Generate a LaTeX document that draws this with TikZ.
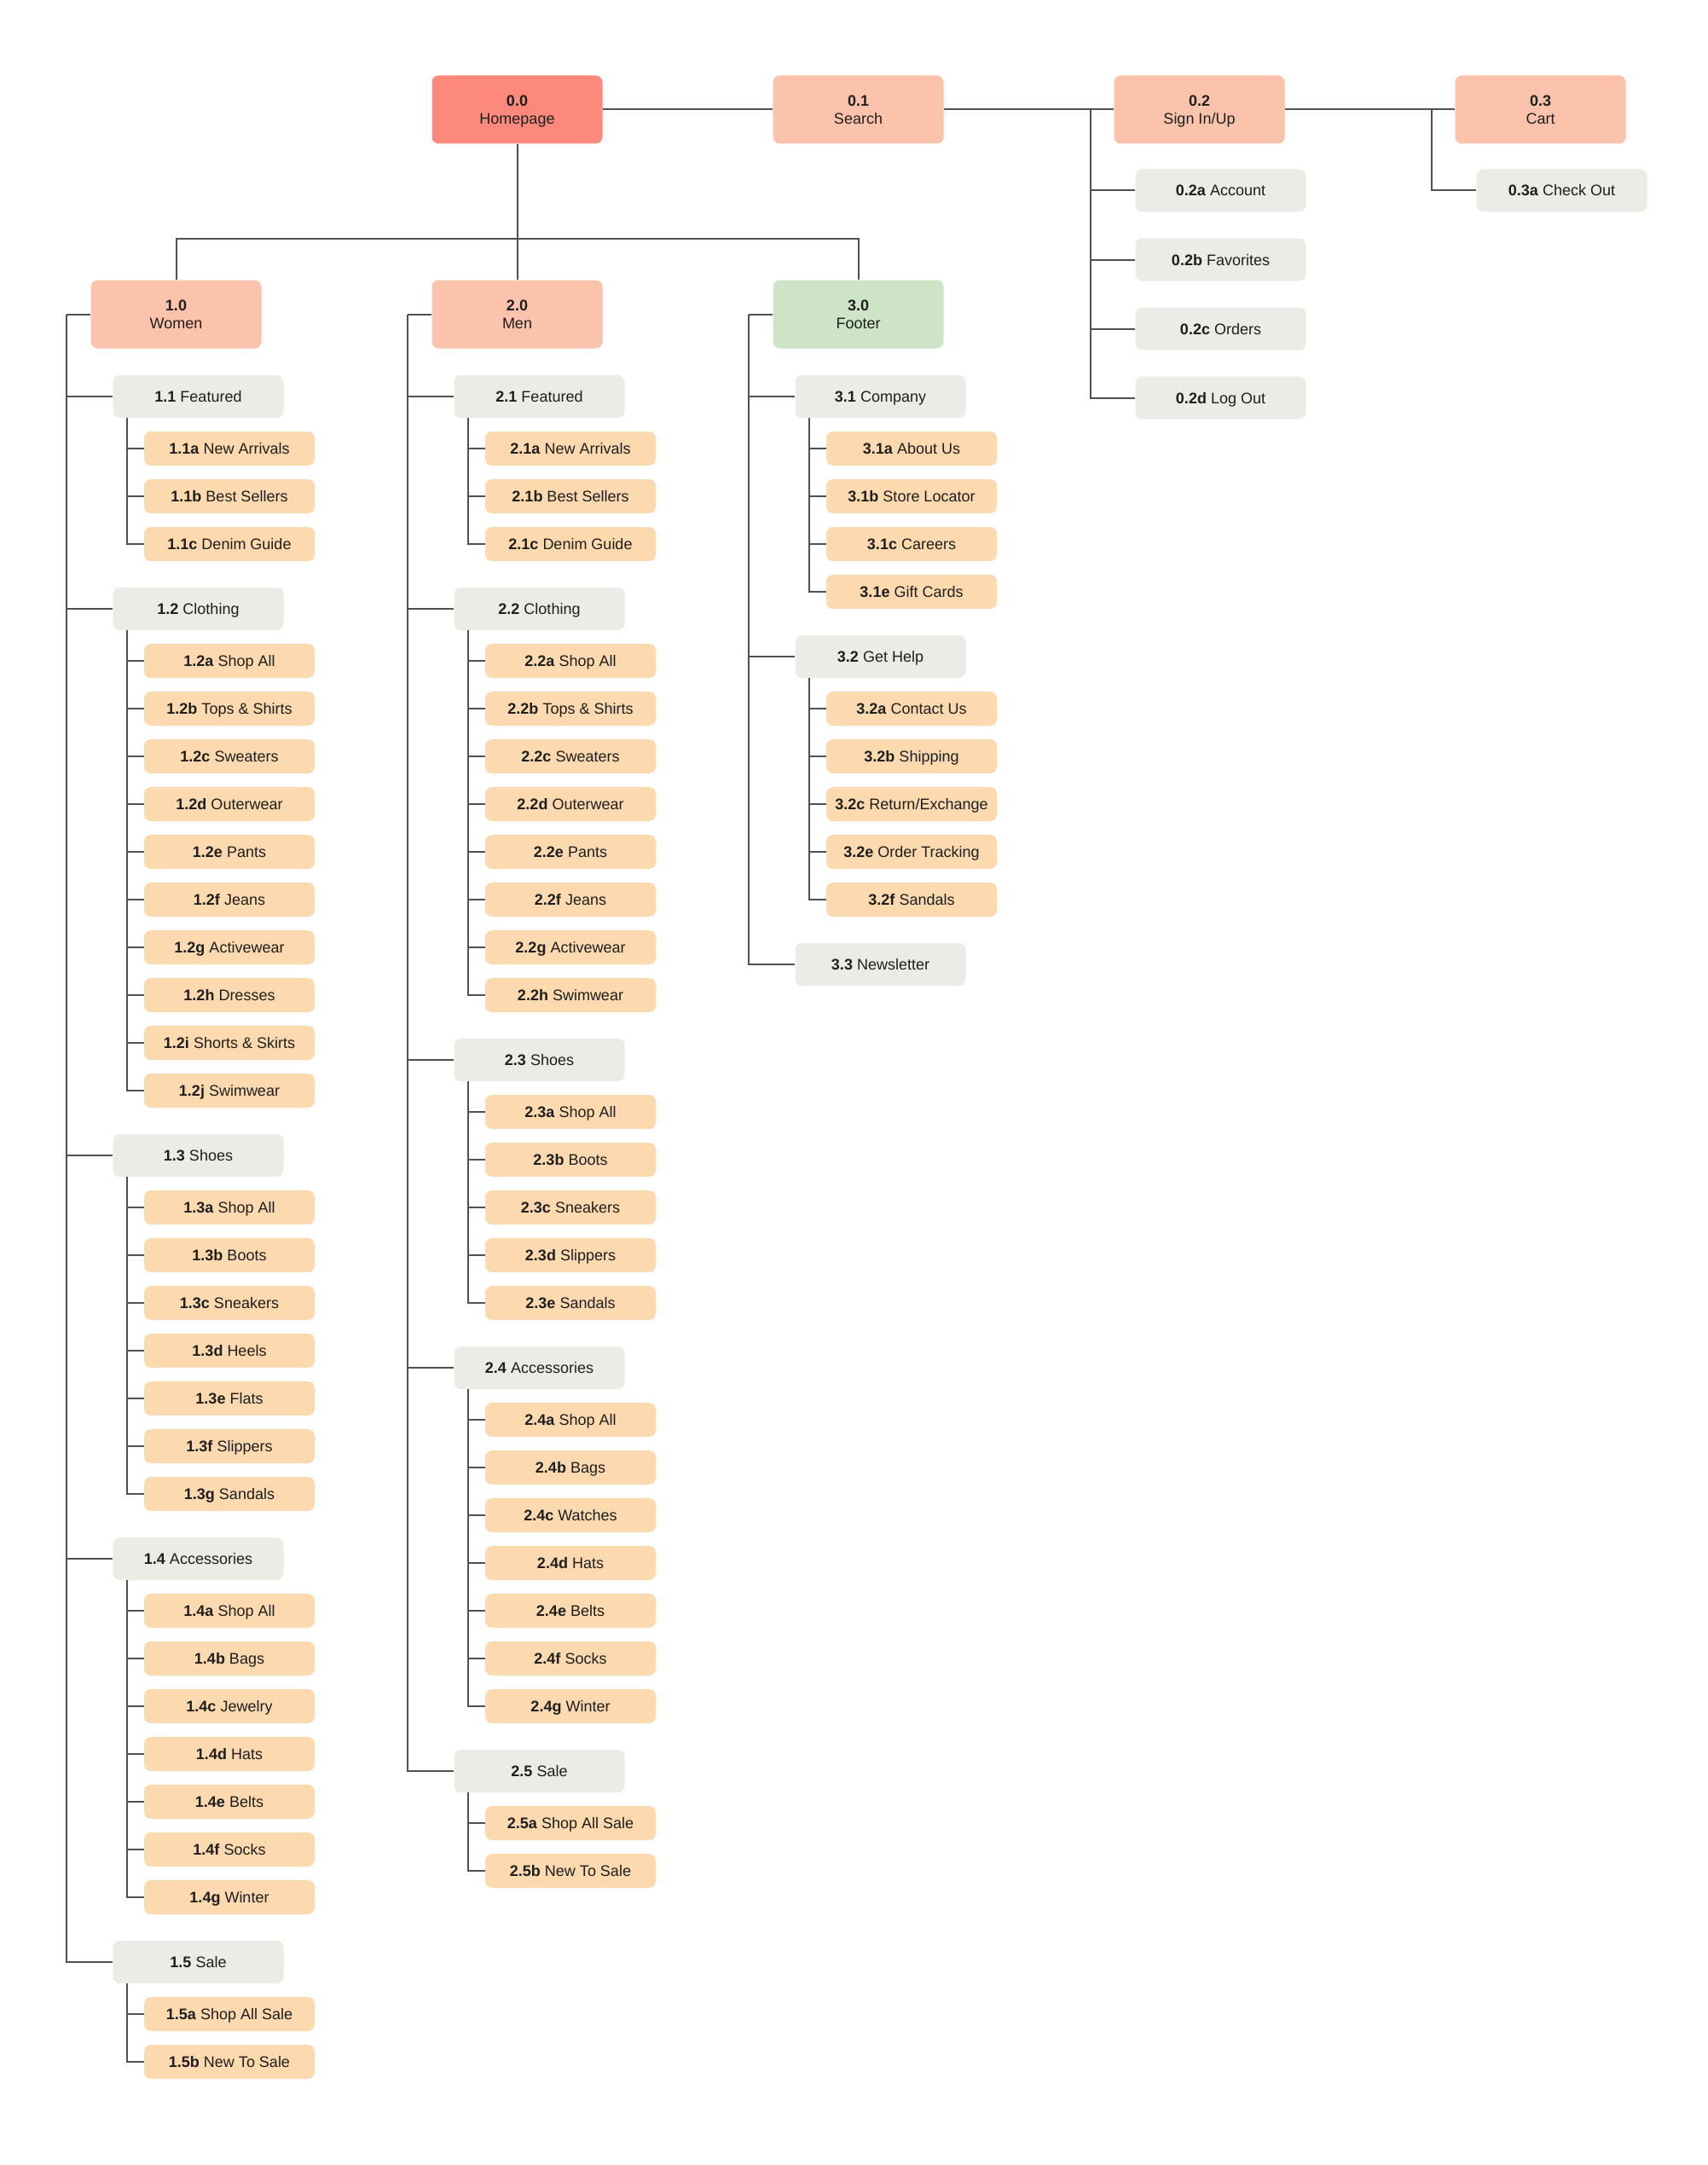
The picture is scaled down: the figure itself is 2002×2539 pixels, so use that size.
\documentclass[tikz,border=0pt]{standalone}
\usepackage{fontspec}
\setmainfont{Liberation Sans}
\usetikzlibrary{calc}
\definecolor{homec}{HTML}{FD897D}
\definecolor{peachc}{HTML}{FCC3AC}
\definecolor{greenc}{HTML}{CDE4C7}
\definecolor{grayc}{HTML}{EDEBE6}
\definecolor{orangec}{HTML}{FCD9AE}
\definecolor{linec}{HTML}{505050}
\definecolor{txtc}{HTML}{1E1E1E}
\newcommand\grp[6]{%
  \node[gb] (n#1) at (#4,#5) {\textbf{#2} #3};
  \coordinate (s#1) at ($(n#1.south west)+(17,0)$);
  \foreach \cl/\ct [count=\ci] in {#6} {
    \node[ob] (n#1\cl) at ({#4+36.5},{#5+61+56*(\ci-1)}) {\textbf{#2\cl} \ct};
    \draw[ln] (s#1) |- (n#1\cl.west);
  }
}
\begin{document}
\begin{tikzpicture}[x=1pt,y=-1pt,
  base/.style={rounded corners=8pt, inner sep=0pt, minimum width=200pt, text=txtc,
    font=\fontsize{18}{21.5}\selectfont},
  topbox/.style={base, minimum height=80pt, align=center, text depth=0pt},
  onel/.style={base, text height=13pt, text depth=0pt},
  gb/.style={onel, fill=grayc, minimum height=50pt},
  ob/.style={onel, fill=orangec, minimum height=40pt},
  ln/.style={draw=linec, line width=2pt}]
\fill[white] (0,0) rectangle (2002,2539);
\useasboundingbox (0,0) rectangle (2002,2539);

% top row
\node[topbox, fill=homec]  (n00) at (606.5,128.5) {\textbf{0.0}\\Homepage};
\node[topbox, fill=peachc] (n01) at (1006.5,128.5) {\textbf{0.1}\\Search};
\node[topbox, fill=peachc] (n02) at (1406.5,128.5) {\textbf{0.2}\\Sign In/Up};
\node[topbox, fill=peachc] (n03) at (1806.5,128.5) {\textbf{0.3}\\Cart};
\draw[ln] (n00.east) -- (n01.west);
\draw[ln] (n01.east) -- (n02.west);
\draw[ln] (n02.east) -- (n03.west);

% sign in children
\coordinate (t02) at ($(n02.west)+(-27,0)$);
\foreach \cl/\ct [count=\ci] in {a/Account, b/Favorites, c/Orders, d/Log Out} {
  \node[gb] (n02\cl) at ({1431.5},{223.5+81*(\ci-1)}) {\textbf{0.2\cl} \ct};
  \draw[ln] (t02) |- (n02\cl.west);
}
% cart child
\coordinate (t03) at ($(n03.west)+(-27,0)$);
\node[gb] (n03a) at (1831.5,223.5) {\textbf{0.3a} Check Out};
\draw[ln] (t03) |- (n03a.west);

% level 1
\node[topbox, fill=peachc] (n10) at (206.5,368.5) {\textbf{1.0}\\Women};
\node[topbox, fill=peachc] (n20) at (606.5,368.5) {\textbf{2.0}\\Men};
\node[topbox, fill=greenc] (n30) at (1006.5,368.5) {\textbf{3.0}\\Footer};
\coordinate (bus) at (606.5,280);
\draw[ln] (n00.south) -- (n20.north);
\draw[ln] (n10.north) -- (n10.north |- bus) -- (n30.north |- bus) -- (n30.north);

% Women
\grp{11}{1.1}{Featured}{232.5}{465}{a/New Arrivals, b/Best Sellers, c/Denim Guide}
\grp{12}{1.2}{Clothing}{232.5}{714}{a/Shop All, b/Tops \& Shirts, c/Sweaters, d/Outerwear, e/Pants, f/Jeans, g/Activewear, h/Dresses, i/Shorts \& Skirts, j/Swimwear}
\grp{13}{1.3}{Shoes}{232.5}{1355}{a/Shop All, b/Boots, c/Sneakers, d/Heels, e/Flats, f/Slippers, g/Sandals}
\grp{14}{1.4}{Accessories}{232.5}{1828}{a/Shop All, b/Bags, c/Jewelry, d/Hats, e/Belts, f/Socks, g/Winter}
\grp{15}{1.5}{Sale}{232.5}{2301}{a/Shop All Sale, b/New To Sale}
\coordinate (t1) at ($(n10.west)+(-28,0)$);
\draw[ln] (n10.west) -- (t1);
\foreach \g in {11,12,13,14,15} \draw[ln] (t1) |- (n\g.west);

% Men
\grp{21}{2.1}{Featured}{632.5}{465}{a/New Arrivals, b/Best Sellers, c/Denim Guide}
\grp{22}{2.2}{Clothing}{632.5}{714}{a/Shop All, b/Tops \& Shirts, c/Sweaters, d/Outerwear, e/Pants, f/Jeans, g/Activewear, h/Swimwear}
\grp{23}{2.3}{Shoes}{632.5}{1243}{a/Shop All, b/Boots, c/Sneakers, d/Slippers, e/Sandals}
\grp{24}{2.4}{Accessories}{632.5}{1604}{a/Shop All, b/Bags, c/Watches, d/Hats, e/Belts, f/Socks, g/Winter}
\grp{25}{2.5}{Sale}{632.5}{2077}{a/Shop All Sale, b/New To Sale}
\coordinate (t2) at ($(n20.west)+(-28,0)$);
\draw[ln] (n20.west) -- (t2);
\foreach \g in {21,22,23,24,25} \draw[ln] (t2) |- (n\g.west);

% Footer
\grp{31}{3.1}{Company}{1032.5}{465}{a/About Us, b/Store Locator, c/Careers, e/Gift Cards}
\grp{32}{3.2}{Get Help}{1032.5}{770}{a/Contact Us, b/Shipping, c/{Return/Exchange}, e/Order Tracking, f/Sandals}
\node[gb] (n33) at (1032.5,1131) {\textbf{3.3} Newsletter};
\coordinate (t3) at ($(n30.west)+(-28,0)$);
\draw[ln] (n30.west) -- (t3);
\foreach \g in {31,32,33} \draw[ln] (t3) |- (n\g.west);
\end{tikzpicture}
\end{document}
